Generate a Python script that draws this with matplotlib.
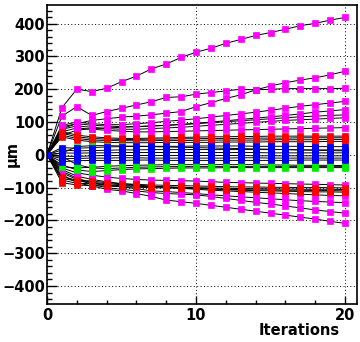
import numpy as np
import matplotlib
matplotlib.use("Agg")
import matplotlib.pyplot as plt
from matplotlib.ticker import MultipleLocator

plt.rcParams['font.family'] = ['DejaVu Sans']

iterations = list(range(0, 21))

# values for iterations 1..20 (every series starts at 0)
magenta_up = [
    [144, 200, 193, 203, 223, 240, 262, 277, 297, 313, 325, 340, 352, 364, 373, 383, 394, 401, 411, 419],
    [118, 147, 120, 132, 142, 152, 162, 175, 177, 185, 190, 195, 200, 198, 200, 202, 202, 202, 202, 203],
    [80, 95, 105, 110, 115, 118, 122, 127, 132, 147, 159, 172, 183, 198, 210, 220, 228, 235, 244, 255],
    [90, 100, 95, 92, 92, 95, 98, 102, 106, 110, 115, 120, 125, 130, 136, 142, 148, 153, 158, 163],
    [85, 95, 90, 88, 86, 86, 88, 90, 93, 96, 100, 104, 108, 112, 116, 120, 125, 130, 134, 138],
    [78, 88, 84, 80, 78, 78, 80, 82, 84, 87, 90, 93, 96, 99, 102, 105, 107, 109, 111, 113],
    [70, 82, 78, 75, 72, 70, 70, 71, 72, 73, 74, 75, 76, 77, 78, 79, 80, 81, 82, 83],
    [60, 75, 80, 82, 84, 86, 88, 90, 92, 95, 98, 101, 104, 107, 110, 113, 116, 118, 120, 122],
]
magenta_down = [
    [-40, -55, -62, -68, -72, -75, -77, -78, -79, -80, -82, -84, -85, -86, -87, -88, -89, -90, -91, -92],
    [-50, -71, -85, -92, -98, -103, -110, -112, -115, -118, -122, -125, -128, -131, -134, -137, -140, -142, -144, -146],
    [-55, -75, -90, -100, -105, -110, -115, -118, -120, -122, -127, -133, -139, -145, -150, -156, -162, -168, -173, -178],
    [-60, -85, -95, -105, -110, -118, -127, -138, -143, -148, -154, -160, -166, -172, -178, -184, -190, -196, -203, -209],
    [-45, -65, -75, -82, -88, -92, -96, -99, -102, -105, -108, -110, -112, -114, -116, -118, -120, -122, -124, -125],
]
red_up = [
    [71, 60, 55, 52, 50, 50, 51, 52, 53, 54, 55, 55, 56, 56, 57, 57, 57, 57, 57, 57],
    [66, 55, 50, 48, 47, 47, 48, 48, 49, 49, 50, 50, 50, 51, 51, 51, 52, 52, 52, 52],
    [60, 50, 45, 44, 43, 43, 43, 44, 44, 44, 45, 45, 45, 45, 46, 46, 46, 46, 47, 47],
    [55, 45, 40, 38, 37, 37, 37, 38, 38, 38, 38, 39, 39, 39, 40, 40, 40, 40, 41, 41],
]
red_down = [
    [-67, -77, -80, -85, -88, -90, -92, -93, -94, -95, -96, -97, -98, -98, -99, -99, -100, -100, -100, -101],
    [-77, -87, -88, -92, -94, -96, -97, -98, -99, -100, -101, -102, -103, -103, -104, -104, -105, -105, -105, -106],
    [-85, -92, -94, -95, -97, -99, -100, -101, -102, -103, -104, -105, -106, -107, -107, -108, -108, -109, -109, -110],
    [-72, -80, -84, -88, -91, -94, -96, -98, -100, -102, -104, -106, -108, -109, -110, -111, -112, -113, -113, -114],
]
green = [
    [5, 25, 28, 28, 27, 26, 25, 24, 23, 22, 21, 20, 19, 18, 17, 16, 15, 14, 13, 12],
    [-5, -30, -40, -42, -40, -38, -37, -36, -36, -36, -36, -36, -36, -36, -36, -36, -36, -36, -36, -36],
    [-31, -46, -51, -48, -45, -43, -42, -41, -40, -40, -40, -39, -39, -39, -39, -39, -39, -39, -39, -39],
    [-36, -40, -38, -35, -33, -32, -31, -30, -30, -30, -30, -30, -30, -30, -31, -31, -32, -32, -32, -33],
]
blue = [
    [22, 20, 22, 24, 25, 26, 26, 26, 26, 27, 27, 27, 27, 26, 26, 26, 26, 25, 25, 25],
    [15, 12, 13, 14, 15, 15, 16, 16, 16, 16, 16, 16, 16, 16, 16, 16, 15, 15, 15, 15],
    [6, 5, 6, 6, 7, 7, 7, 7, 7, 7, 7, 7, 7, 7, 6, 6, 6, 6, 6, 6],
    [-4, -5, -3, -2, -2, -2, -2, -2, -2, -2, -2, -2, -2, -3, -3, -3, -3, -3, -3, -3],
    [-12, -11, -10, -10, -9, -9, -10, -10, -10, -10, -10, -10, -9, -9, -10, -10, -10, -10, -10, -10],
    [-21, -18, -17, -17, -17, -16, -16, -17, -17, -17, -17, -17, -17, -17, -17, -17, -16, -16, -16, -16],
]

groups = [
    (magenta_up, '#ff00ff'),
    (magenta_down, '#ff00ff'),
    (red_up, '#ff0000'),
    (red_down, '#ff0000'),
    (green, '#00ee00'),
    (blue, '#0000ff'),
]

fig = plt.figure(figsize=(3.6, 3.42), dpi=100)
ax = fig.add_axes([0.1306, 0.1111, 0.8611, 0.8743])

for series, col in groups:
    for vals in series:
        ax.plot(iterations, [0] + vals, color='black', lw=0.7,
                marker='s', ms=4.5, mfc=col, mec=col, mew=0.5)

ax.set_xlim(0, 20.8)
ax.set_ylim(-455, 457)

ax.xaxis.set_major_locator(MultipleLocator(10))
ax.xaxis.set_minor_locator(MultipleLocator(2))
ax.yaxis.set_major_locator(MultipleLocator(100))
ax.yaxis.set_minor_locator(MultipleLocator(20))

ax.grid(True, which='major', color='black', linestyle=(0, (1, 2.5)), lw=0.7)
ax.set_axisbelow(True)

ax.tick_params(axis='both', which='both', direction='in', labelsize=10.5,
               colors='black')
ax.tick_params(axis='y', which='major', length=7, width=1, pad=1.5)
ax.tick_params(axis='y', which='minor', length=3.5, width=1)
ax.tick_params(axis='x', which='major', length=6, width=1, pad=3)
ax.tick_params(axis='x', which='minor', length=3, width=1)
for lab in ax.get_xticklabels() + ax.get_yticklabels():
    lab.set_fontweight('bold')

for sp in ax.spines.values():
    sp.set_linewidth(1.2)

fig.text(0.944, 0.035, 'Iterations', ha='right', va='center',
         fontsize=10.5, fontweight='bold')
fig.text(0.033, 0.55, 'µm', ha='center', va='center', rotation=90,
         fontsize=10.5, fontweight='bold')

fig.savefig('out.png', dpi=100)
